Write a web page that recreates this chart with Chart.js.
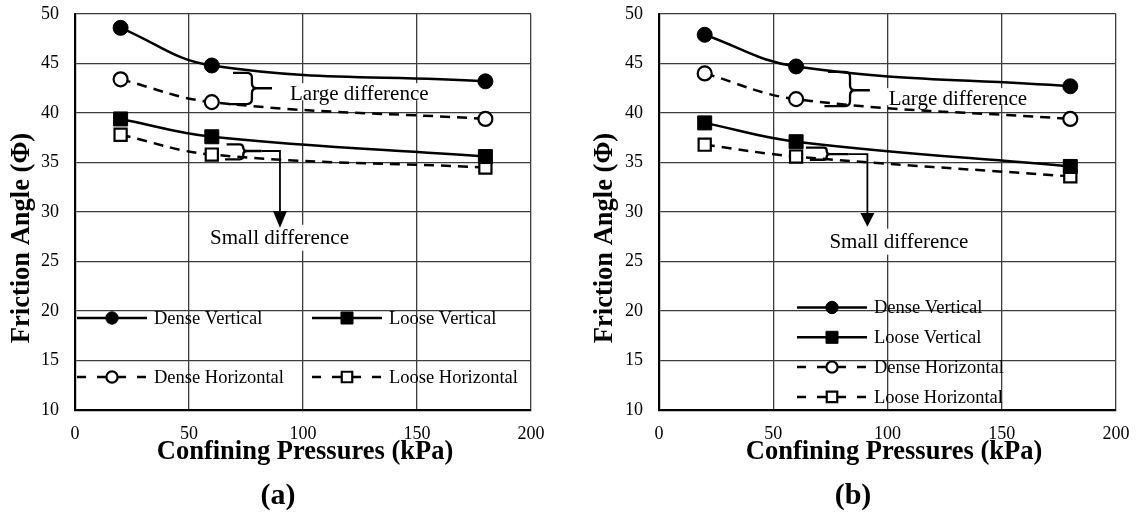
<!DOCTYPE html>
<html><head><meta charset="utf-8">
<script src="https://cdn.jsdelivr.net/npm/chart.js@4.4.1/dist/chart.umd.min.js"></script>
<style>
html,body{margin:0;padding:0;background:#fff;}
body{width:1137px;height:512px;overflow:hidden;position:relative;}
#ca{position:absolute;left:0;top:0;}
#cb{position:absolute;left:584px;top:0;}
</style></head>
<body>
<canvas id="ca" width="584" height="512"></canvas>
<canvas id="cb" width="553" height="512"></canvas>
<script>
// ---------- data ----------
const pressures = [20, 60, 180];
const xTickValues = [0, 50, 100, 150, 200];
const yTickValues = [10, 15, 20, 25, 30, 35, 40, 45, 50];
const seriesNames = ['Dense Vertical', 'Loose Vertical', 'Dense Horizontal', 'Loose Horizontal'];

const aDenseVertical   = [48.6, 44.8, 43.2];
const aLooseVertical   = [39.4, 37.6, 35.6];
const aDenseHorizontal = [43.4, 41.1, 39.4];
const aLooseHorizontal = [37.8, 35.8, 34.5];

const bDenseVertical   = [47.9, 44.7, 42.7];
const bLooseVertical   = [39.0, 37.1, 34.6];
const bDenseHorizontal = [44.0, 41.4, 39.4];
const bLooseHorizontal = [36.8, 35.6, 33.6];

const xTitle = 'Confining Pressures (kPa)';
const yTitle = 'Friction Angle (\u03A6)';
const annotationTexts = ['Large difference', 'Small difference'];

// ---------- styling ----------
const SERIF = "'Liberation Serif', 'Times New Roman', Times, serif";

function toPoints(vals) { return pressures.map((p, i) => ({x: p, y: vals[i]})); }

function makeDatasets(dv, lv, dh, lh) {
  const base = {borderColor: '#000', borderWidth: 2.5, tension: 0.4, pointBorderColor: '#000', pointHoverRadius: 0};
  return [
    Object.assign({}, base, {label: seriesNames[0], data: toPoints(dv), pointStyle: 'circle', pointRadius: 7.5, pointBackgroundColor: '#000', pointBorderWidth: 1, borderDash: []}),
    Object.assign({}, base, {label: seriesNames[1], data: toPoints(lv), pointStyle: 'rect', pointRadius: 9.9, pointBackgroundColor: '#000', pointBorderWidth: 1, borderDash: []}),
    Object.assign({}, base, {label: seriesNames[2], data: toPoints(dh), pointStyle: 'circle', pointRadius: 7, pointBackgroundColor: '#fff', pointBorderWidth: 2.2, borderDash: [10, 7]}),
    Object.assign({}, base, {label: seriesNames[3], data: toPoints(lh), pointStyle: 'rect', pointRadius: 8.6, pointBackgroundColor: '#fff', pointBorderWidth: 2.2, borderDash: [10, 7]})
  ];
}

// ---------- custom drawing plugin ----------
function drawMarker(ctx, ds, x, y) {
  ctx.save();
  ctx.setLineDash([]);
  ctx.lineWidth = ds.pointBorderWidth;
  ctx.fillStyle = ds.pointBackgroundColor;
  ctx.strokeStyle = '#000';
  if (ds.pointStyle === 'circle') {
    const r = (ds.pointBackgroundColor === '#000' ? 6.2 : 5.6);
    ctx.beginPath(); ctx.arc(x, y, r, 0, Math.PI * 2); ctx.fill(); ctx.stroke();
  } else {
    const s = (ds.pointBackgroundColor === '#000' ? 12 : 10.5);
    ctx.beginPath(); ctx.rect(x - s / 2, y - s / 2, s, s); ctx.fill(); ctx.stroke();
  }
  ctx.restore();
}

const notesPlugin = {
  id: 'notes',
  beforeDatasetsDraw(chart, args, opts) {
    const ctx = chart.ctx, sx = chart.scales.x, sy = chart.scales.y;
    ctx.save();
    ctx.font = opts.textFont;
    ctx.fillStyle = '#fff';
    opts.texts.forEach(t => {
      const w = ctx.measureText(t.text).width;
      const X = sx.getPixelForValue(t.x), Y = sy.getPixelForValue(t.y);
      const left = t.align === 'center' ? X - w / 2 : X;
      ctx.fillRect(left - 2, Y - t.boxUp, w + 4, t.boxUp + t.boxDown);
    });
    ctx.restore();
  },
  afterDatasetsDraw(chart, args, opts) {
    const ctx = chart.ctx, sx = chart.scales.x, sy = chart.scales.y;
    const X = v => sx.getPixelForValue(v), Y = v => sy.getPixelForValue(v);
    ctx.save();
    ctx.strokeStyle = '#000';
    ctx.fillStyle = '#000';
    ctx.setLineDash([]);
    ctx.lineCap = 'butt';
    opts.braces.forEach(b => {
      const bx = X(b.x), T = Y(b.top), B = Y(b.bottom), M = Y(b.mid), TX = X(b.tipX);
      const r = Math.min(5, (B - T) / 4);
      ctx.lineWidth = 2.3;
      ctx.beginPath();
      ctx.moveTo(X(b.leftTop), T); ctx.lineTo(bx - r, T); ctx.quadraticCurveTo(bx, T, bx, T + r);
      ctx.lineTo(bx, M - r); ctx.quadraticCurveTo(bx, M, bx + r, M); ctx.lineTo(TX, M);
      ctx.moveTo(bx + r, M); ctx.quadraticCurveTo(bx, M, bx, M + r);
      ctx.lineTo(bx, B - r); ctx.quadraticCurveTo(bx, B, bx - r, B); ctx.lineTo(X(b.leftBottom), B);
      ctx.stroke();
      if (b.arrow) {
        const a = b.arrow, CX = X(a.x), HT = Y(a.headTop), TP = Y(a.tip);
        ctx.lineWidth = 1.8;
        ctx.beginPath();
        ctx.moveTo(TX, M); ctx.lineTo(CX, M); ctx.lineTo(CX, HT);
        ctx.stroke();
        ctx.beginPath();
        ctx.moveTo(CX - 7, HT); ctx.lineTo(CX + 7, HT); ctx.lineTo(CX, TP); ctx.closePath();
        ctx.fill();
      }
    });
    ctx.font = opts.textFont;
    ctx.textBaseline = 'middle';
    opts.texts.forEach(t => {
      ctx.textAlign = t.align;
      ctx.fillText(t.text, X(t.x), Y(t.y));
    });
    ctx.restore();
  },
  afterDraw(chart, args, opts) {
    const ctx = chart.ctx, ca = chart.chartArea;
    ctx.save();
    const L = opts.legend;
    ctx.font = L.font;
    ctx.textBaseline = 'middle';
    ctx.textAlign = 'left';
    chart.data.datasets.forEach((ds, i) => {
      const slot = L.slots[i];
      const x0 = ca.left + slot.x, y0 = ca.top + slot.y;
      const x1 = x0 + L.lineLen, xm = x0 + L.lineLen / 2;
      ctx.save();
      ctx.strokeStyle = '#000';
      ctx.lineWidth = 2.5;
      ctx.setLineDash(ds.borderDash.length ? [9, 11] : []);
      ctx.beginPath(); ctx.moveTo(x0, y0); ctx.lineTo(x1, y0); ctx.stroke();
      ctx.restore();
      drawMarker(ctx, ds, xm, y0);
      ctx.fillStyle = '#000';
      ctx.fillText(ds.label, x1 + L.textGap, y0 + 1);
    });
    ctx.fillStyle = '#000';
    ctx.font = opts.titleFont;
    ctx.textAlign = 'center';
    ctx.textBaseline = 'middle';
    ctx.fillText(xTitle, opts.xTitlePos[0], opts.xTitlePos[1]);
    ctx.save();
    ctx.translate(opts.yTitlePos[0], opts.yTitlePos[1]);
    ctx.rotate(-Math.PI / 2);
    ctx.fillText(yTitle, 0, 0);
    ctx.restore();
    ctx.font = opts.captionFont;
    ctx.fillText(opts.caption, opts.captionPos[0], opts.captionPos[1]);
    ctx.restore();
  }
};

function makeScales() {
  return {
    x: {
      type: 'linear', min: 0, max: 200,
      afterBuildTicks: s => { s.ticks = xTickValues.map(v => ({value: v})); },
      afterFit: s => { s.height = 102; s.paddingLeft = 0; s.paddingRight = 0; },
      grid: {color: '#3c3c3c', lineWidth: 1.3, drawTicks: false},
      border: {display: true, color: '#000', width: 2.2},
      ticks: {color: '#000', font: {family: SERIF, size: 18}, padding: 13, maxRotation: 0}
    },
    y: {
      type: 'linear', min: 10, max: 50,
      afterBuildTicks: s => { s.ticks = yTickValues.map(v => ({value: v})); },
      afterFit: s => { s.width = 75; s.paddingTop = 0; s.paddingBottom = 0; },
      grid: {color: '#3c3c3c', lineWidth: 1.3, drawTicks: false},
      border: {display: true, color: '#000', width: 2.2},
      ticks: {color: '#000', font: {family: SERIF, size: 18}, padding: 16}
    }
  };
}

function makeChart(id, datasets, rightPad, notes) {
  return new Chart(document.getElementById(id), {
    type: 'line',
    data: {datasets},
    options: {
      responsive: false, animation: false, devicePixelRatio: 1,
      layout: {padding: {left: 0, top: 14, right: rightPad, bottom: 0}},
      plugins: {legend: {display: false}, tooltip: {enabled: false}, title: {display: false}, notes},
      scales: makeScales()
    },
    plugins: [notesPlugin]
  });
}

const commonFonts = {
  textFont: '21px ' + SERIF,
  titleFont: 'bold 26.5px ' + SERIF,
  captionFont: 'bold 30px ' + SERIF
};

makeChart('ca', makeDatasets(aDenseVertical, aLooseVertical, aDenseHorizontal, aLooseHorizontal), 53,
  Object.assign({}, commonFonts, {
    braces: [
      {x: 77.6, top: 44.05, bottom: 40.9, mid: 42.5, tipX: 86.4, leftTop: 69.3, leftBottom: 67.5},
      {x: 73.8, top: 36.84, bottom: 35.32, mid: 36.16, tipX: 81.9, leftTop: 66.5, leftBottom: 65.8,
       arrow: {x: 89.9, headTop: 30.1, tip: 28.4}}
    ],
    texts: [
      {text: annotationTexts[0], x: 94.3, y: 41.9, align: 'left', boxUp: 11, boxDown: 6},
      {text: annotationTexts[1], x: 89.7, y: 27.3, align: 'center', boxUp: 14, boxDown: 12}
    ],
    legend: {font: '18.5px ' + SERIF, lineLen: 70, textGap: 7,
      slots: [{x: 2, y: 304}, {x: 237, y: 304}, {x: 2, y: 363}, {x: 237, y: 363}]},
    xTitlePos: [305, 452.5], yTitlePos: [22, 238], caption: '(a)', captionPos: [278, 496]
  }));

makeChart('cb', makeDatasets(bDenseVertical, bLooseVertical, bDenseHorizontal, bLooseHorizontal), 21,
  Object.assign({}, commonFonts, {
    braces: [
      {x: 83.6, top: 44.15, bottom: 40.7, mid: 42.3, tipX: 92.3, leftTop: 74, leftBottom: 72.4},
      {x: 73.4, top: 36.5, bottom: 35.28, mid: 35.85, tipX: 83.0, leftTop: 64.3, leftBottom: 66,
       arrow: {x: 91.2, headTop: 29.9, tip: 28.5}}
    ],
    texts: [
      {text: annotationTexts[0], x: 100.5, y: 41.4, align: 'left', boxUp: 11, boxDown: 6},
      {text: annotationTexts[1], x: 105, y: 26.9, align: 'center', boxUp: 14, boxDown: 12}
    ],
    legend: {font: '18.5px ' + SERIF, lineLen: 70, textGap: 7,
      slots: [{x: 138, y: 293.5}, {x: 138, y: 323.3}, {x: 138, y: 353.1}, {x: 138, y: 382.9}]},
    xTitlePos: [310, 452.5], yTitlePos: [21, 238], caption: '(b)', captionPos: [269, 496]
  }));
</script>
</body></html>
